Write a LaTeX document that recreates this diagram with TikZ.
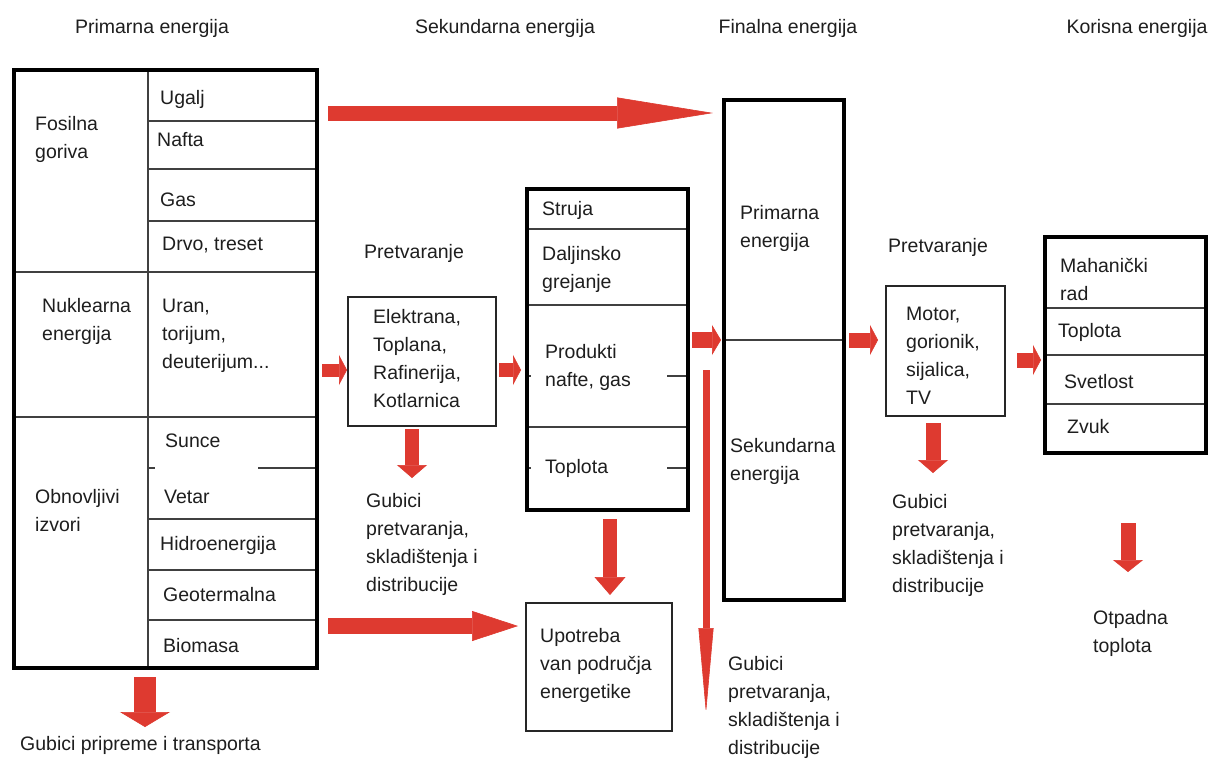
\documentclass[tikz,border=0pt]{standalone}
\usepackage{fontspec}
\setmainfont{Liberation Sans}
\usetikzlibrary{arrows.meta}
\definecolor{ared}{RGB}{222,58,48}
\definecolor{tcol}{RGB}{30,30,30}
\begin{document}
\begin{tikzpicture}[x=1pt,y=-1pt,
  txt/.style={font=\fontsize{19.5}{28}\selectfont, text=tcol, align=left, inner sep=0pt, anchor=west},
  hdr/.style={font=\fontsize{19.5}{28}\selectfont, text=tcol, inner sep=0pt},
  thickbox/.style={draw=black, line width=3.5pt, inner sep=0pt},
  thinbox/.style={draw=black!85, line width=1.8pt, inner sep=0pt},
  sep/.style={draw=black!75, line width=1.3pt},
  fat/.style n args={3}{draw=ared, line width=#1, -{Triangle[length=#2, width=#3, line width=0.6pt]}},
]
\useasboundingbox (0,0) rectangle (1218,758);
\fill[white] (0,0) rectangle (1218,758);

% headers
\node[hdr] (h1) at (152,28) {Primarna energija};
\node[hdr] (h2) at (505,28) {Sekundarna energija};
\node[hdr] (h3) at (788,28) {Finalna energija};
\node[hdr] (h4) at (1137,28) {Korisna energija};

% separators of left box
\draw[sep] (148,70) -- (148,668);
\draw[sep] (148,121) -- (317,121);
\draw[sep] (148,169) -- (317,169);
\draw[sep] (148,221) -- (317,221);
\draw[sep] (14,272) -- (317,272);
\draw[sep] (14,417) -- (317,417);
\draw[sep] (148,468) -- (155,468);
\draw[sep] (258,468) -- (317,468);
\draw[sep] (148,519) -- (317,519);
\draw[sep] (148,570) -- (317,570);
\draw[sep] (148,620) -- (317,620);

% separators of middle box
\draw[sep] (527,229) -- (688,229);
\draw[sep] (527,305) -- (688,305);
\draw[sep] (527,427) -- (688,427);
\draw[sep] (667,376) -- (688,376);
\draw[sep] (527,376) -- (531,376);
\draw[sep] (667,468) -- (688,468);
\draw[sep] (527,468) -- (531,468);

% final box divider
\draw[sep] (724,340) -- (844,340);

% korisna separators
\draw[sep] (1045,308) -- (1206,308);
\draw[sep] (1045,355) -- (1206,355);
\draw[sep] (1045,404) -- (1206,404);

% boxes
\node[thickbox, minimum width=303pt, minimum height=598pt] (L) at (165.5,369) {};
\node[thinbox, minimum width=148pt, minimum height=129pt] (P1) at (422,361.5) {};
\node[thickbox, minimum width=161pt, minimum height=321pt] (M) at (607.5,349.5) {};
\node[thinbox, line width=1.4pt, minimum width=146pt, minimum height=128pt] (U) at (599,667) {};
\node[thickbox, minimum width=120pt, minimum height=500pt] (F) at (784,350) {};
\node[thinbox, minimum width=119pt, minimum height=130pt] (P2) at (945.5,351) {};
\node[thickbox, minimum width=161pt, minimum height=216pt] (K) at (1125.5,345) {};

% left box texts
\node[txt] (fos) at (35,139) {Fosilna\\goriva};
\node[txt] (ug) at (160,99) {Ugalj};
\node[txt] (na) at (157,140) {Nafta};
\node[txt] (gas) at (160,200) {Gas};
\node[txt] (drv) at (162,245) {Drvo, treset};
\node[txt] (nuk) at (42,321) {Nuklearna\\energija};
\node[txt] (ur) at (162,336) {Uran,\\torijum,\\deuterijum...};
\node[txt] (obn) at (35,511) {Obnovljivi\\izvori};
\node[txt] (sun) at (165,441) {Sunce};
\node[txt] (vet) at (164,497) {Vetar};
\node[txt] (hid) at (160,545) {Hidroenergija};
\node[txt] (geo) at (163,595) {Geotermalna};
\node[txt] (bio) at (163,646) {Biomasa};
\node[txt] (gpt) at (20,745) {Gubici pripreme i transporta};

% conversion 1
\node[txt] (pr1) at (364,253) {Pretvaranje};
\node[txt] (el) at (373,359) {Elektrana,\\Toplana,\\Rafinerija,\\Kotlarnica};
\node[txt] (gub1) at (366,544) {Gubici\\pretvaranja,\\skladištenja i\\distribucije};

% middle box texts
\node[txt] (str) at (542,210) {Struja};
\node[txt] (dal) at (542,269) {Daljinsko\\grejanje};
\node[txt] (prod) at (545,367) {Produkti\\nafte, gas};
\node[txt] (top1) at (545,468) {Toplota};
\node[txt] (upo) at (540,665) {Upotreba\\van područja\\energetike};

% final box texts
\node[txt] (fpe) at (740,228) {Primarna\\energija};
\node[txt] (fse) at (730,461) {Sekundarna\\energija};
\node[txt] (gub2) at (728,707) {Gubici\\pretvaranja,\\skladištenja i\\distribucije};

% conversion 2
\node[txt] (pr2) at (888,247) {Pretvaranje};
\node[txt] (mot) at (906,356) {Motor,\\gorionik,\\sijalica,\\TV};
\node[txt] (gub3) at (892,545) {Gubici\\pretvaranja,\\skladištenja i\\distribucije};

% korisna texts
\node[txt] (meh) at (1060,279) {Mahanički\\rad};
\node[txt] (top2) at (1058,332) {Toplota};
\node[txt] (svt) at (1064,382) {Svetlost};
\node[txt] (zv) at (1067,427) {Zvuk};
\node[txt] (otp) at (1093,633) {Otpadna\\toplota};

% arrow end points
\coordinate (a1s) at (328,113);  \coordinate (a1e) at (713,113);
\coordinate (a2s) at (328,626);  \coordinate (a2e) at (518,626);
\coordinate (a3s) at (322,370);  \coordinate (a3e) at (347,370);
\coordinate (a4s) at (499,370);  \coordinate (a4e) at (521,370);
\coordinate (a5s) at (692,340);  \coordinate (a5e) at (721,340);
\coordinate (a6s) at (849,340);  \coordinate (a6e) at (878,340);
\coordinate (a7s) at (1017,360); \coordinate (a7e) at (1041,360);
\coordinate (d1s) at (145,677);  \coordinate (d1e) at (145,727);
\coordinate (d2s) at (412,429);  \coordinate (d2e) at (412,478);
\coordinate (d3s) at (610,519);  \coordinate (d3e) at (610,595);
\coordinate (d4s) at (706,370);  \coordinate (d4e) at (706,713);
\coordinate (d5s) at (933,423);  \coordinate (d5e) at (933,473);
\coordinate (d6s) at (1128,523); \coordinate (d6e) at (1128,572);

\draw[fat={15pt}{96pt}{31pt}] (a1s) -- (a1e);
\draw[fat={16pt}{46pt}{30pt}] (a2s) -- (a2e);
\draw[fat={13pt}{8pt}{30pt}] (a3s) -- (a3e);
\draw[fat={14pt}{8pt}{30pt}] (a4s) -- (a4e);
\draw[fat={16pt}{9pt}{30pt}] (a5s) -- (a5e);
\draw[fat={15pt}{8pt}{30pt}] (a6s) -- (a6e);
\draw[fat={15pt}{8pt}{30pt}] (a7s) -- (a7e);
\draw[fat={22pt}{15pt}{50pt}] (d1s) -- (d1e);
\draw[fat={14pt}{13pt}{30pt}] (d2s) -- (d2e);
\draw[fat={14pt}{18pt}{31pt}] (d3s) -- (d3e);
\draw[fat={7pt}{85pt}{15pt}] (d4s) -- (d4e);
\draw[fat={15pt}{13pt}{30pt}] (d5s) -- (d5e);
\draw[fat={15pt}{12pt}{30pt}] (d6s) -- (d6e);
\end{tikzpicture}
\end{document}
